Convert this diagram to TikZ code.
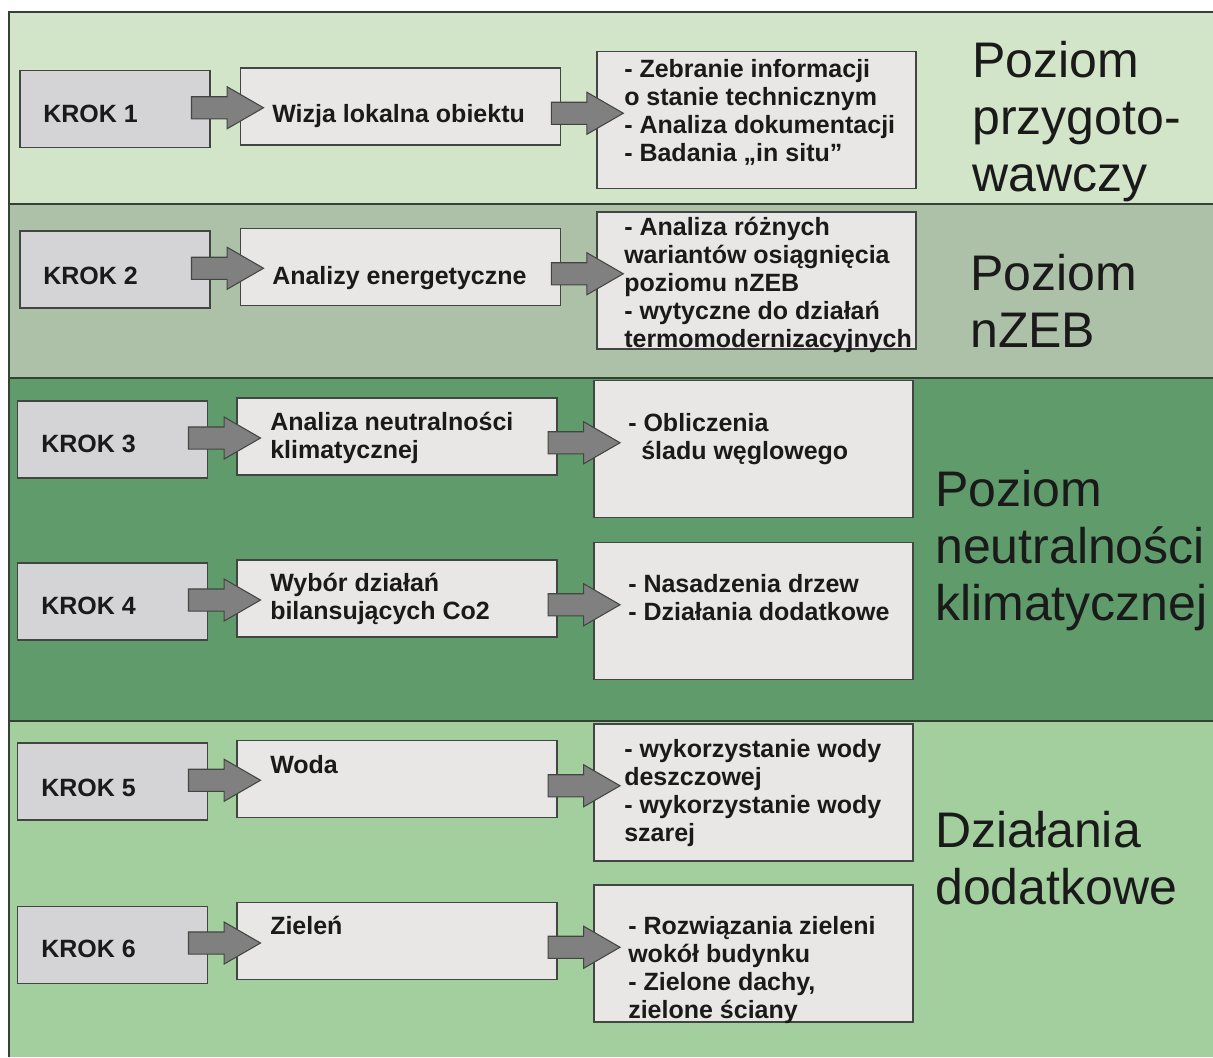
\documentclass[tikz,border=0pt]{standalone}
\usepackage{fontspec}
\setmainfont{Liberation Sans}
\usepackage{tikz}
\usetikzlibrary{shapes.arrows}
\usetikzlibrary{calc}
\definecolor{bandone}{RGB}{211,229,200}
\definecolor{bandtwo}{RGB}{173,193,168}
\definecolor{bandthree}{RGB}{96,155,108}
\definecolor{bandfour}{RGB}{163,206,158}
\definecolor{krokgray}{RGB}{212,212,214}
\definecolor{boxgray}{RGB}{232,231,230}
\definecolor{arrowgray}{RGB}{128,128,128}
\definecolor{linegray}{RGB}{66,70,66}
\definecolor{framecol}{RGB}{52,66,52}
\definecolor{txtcol}{RGB}{26,26,26}
\tikzset{krokbox/.style={draw=linegray,fill=krokgray,line width=0.8pt,
           minimum width=142.5pt,minimum height=57.75pt,inner sep=0pt},
         midbox/.style={krokbox,fill=boxgray,minimum width=240pt},
         infobox/.style={krokbox,fill=boxgray,minimum width=239.25pt,
           minimum height=102.75pt},
         boxtxt/.style={anchor=base west,inner sep=0pt,align=left,text=txtcol,
           font=\bfseries\fontsize{18.75pt}{21pt}\selectfont},
         bigtxt/.style={anchor=base west,inner sep=0pt,align=left,text=txtcol,
           font=\fontsize{37.5pt}{42.75pt}\selectfont},
         fatarrow/.style={single arrow,draw=linegray,fill=arrowgray,line width=0.8pt,
           minimum height=54pt,inner xsep=0pt,inner ysep=7.875pt,anchor=tail,
           single arrow head extend=7.5pt,single arrow tip angle=60},
         bandline/.style={draw=framecol,line width=1.1pt}}

\begin{document}
\begin{tikzpicture}[x=0.75pt,y=-0.75pt]
\useasboundingbox (0,0) rectangle (1213,1057);
\fill[white] (0,0) rectangle (1213,1057);
% poziomy
\fill[bandone] (9,12) rectangle (1213,204);
\fill[bandtwo] (9,204) rectangle (1213,378);
\fill[bandthree] (9,378) rectangle (1213,721);
\fill[bandfour] (9,721) rectangle (1213,1057);
\draw[bandline] (1213,12) -- (9,12) -- (9,1057);
\draw[bandline] (9,204) -- (1213,204);
\draw[bandline] (9,378) -- (1213,378);
\draw[bandline] (9,721) -- (1213,721);

% krok 1
\node[krokbox] (k1) at (115,109) {};
\node[midbox] (m1) at (400.5,106.5) {};
\node[infobox] (r1) at (756.5,120) {};
% krok 2
\node[krokbox] (k2) at (115,269.5) {};
\node[midbox] (m2) at (400.5,267) {};
\node[infobox] (r2) at (756.5,280.5) {};
% krok 3
\node[krokbox] (k3) at (112.5,439.5) {};
\node[midbox] (m3) at (397,436.5) {};
\node[infobox] (r3) at (753.5,449) {};
% krok 4
\node[krokbox] (k4) at (112.5,601.5) {};
\node[midbox] (m4) at (397,598.5) {};
\node[infobox] (r4) at (753.5,611) {};
% krok 5
\node[krokbox] (k5) at (112.5,781.5) {};
\node[midbox] (m5) at (397,779) {};
\node[infobox] (r5) at (753.5,792.5) {};
% krok 6
\node[krokbox] (k6) at (112.5,945) {};
\node[midbox] (m6) at (397,941) {};
\node[infobox] (r6) at (753.5,953.5) {};

% strzalki
\node[fatarrow,xshift=-25.7pt] (a1) at ($(k1.east)!.5!(m1.west)$) {};
\node[fatarrow,xshift=-21pt] (b1) at ($(m1.east)!.5!(r1.west)$) {};
\node[fatarrow,xshift=-25.7pt] (a2) at ($(k2.east)!.5!(m2.west)$) {};
\node[fatarrow,xshift=-21pt] (b2) at ($(m2.east)!.5!(r2.west)$) {};
\node[fatarrow,xshift=-25.7pt] (a3) at ($(k3.east)!.5!(m3.west)$) {};
\node[fatarrow,xshift=-21pt] (b3) at ($(m3.east)!.5!(r3.west)$) {};
\node[fatarrow,xshift=-25.7pt] (a4) at ($(k4.east)!.5!(m4.west)$) {};
\node[fatarrow,xshift=-21pt] (b4) at ($(m4.east)!.5!(r4.west)$) {};
\node[fatarrow,xshift=-25.7pt] (a5) at ($(k5.east)!.5!(m5.west)$) {};
\node[fatarrow,xshift=-21pt] (b5) at ($(m5.east)!.5!(r5.west)$) {};
\node[fatarrow,xshift=-25.7pt] (a6) at ($(k6.east)!.5!(m6.west)$) {};
\node[fatarrow,xshift=-21pt] (b6) at ($(m6.east)!.5!(r6.west)$) {};

% teksty (base = ostatnia linia)
\node[boxtxt] (k1t) at (43,122) {KROK 1};
\node[boxtxt] (m1t) at (272,122) {Wizja lokalna obiektu};
\node[boxtxt] (r1t) at (624,161) {- Zebranie informacji\\o stanie technicznym\\- Analiza dokumentacji\\- Badania „in situ”};
\node[boxtxt] (k2t) at (43,284) {KROK 2};
\node[boxtxt] (m2t) at (272,284) {Analizy energetyczne};
\node[boxtxt] (r2t) at (624,347) {- Analiza różnych\\wariantów osiągnięcia\\poziomu nZEB\\- wytyczne do działań\\termomodernizacyjnych};
\node[boxtxt] (k3t) at (41,452) {KROK 3};
\node[boxtxt] (m3t) at (270,458) {Analiza neutralności\\klimatycznej};
\node[boxtxt] (r3t) at (628,459) {- Obliczenia\\\hspace*{9.75pt}śladu węglowego};
\node[boxtxt] (k4t) at (41,614) {KROK 4};
\node[boxtxt] (m4t) at (270,619) {Wybór działań\\bilansujących Co2};
\node[boxtxt] (r4t) at (628,620) {- Nasadzenia drzew\\- Działania dodatkowe};
\node[boxtxt] (k5t) at (41,796) {KROK 5};
\node[boxtxt] (m5t) at (270,773) {Woda};
\node[boxtxt] (r5t) at (624,841) {- wykorzystanie wody\\deszczowej\\- wykorzystanie wody\\szarej};
\node[boxtxt] (k6t) at (41,957) {KROK 6};
\node[boxtxt] (m6t) at (270,934) {Zieleń};
\node[boxtxt] (r6t) at (628,1018) {- Rozwiązania zieleni\\wokół budynku\\- Zielone dachy,\\zielone ściany};

\node[bigtxt] (p1) at (972,191) {Poziom\\przygoto-\\wawczy};
\node[bigtxt] (p2) at (970,347) {Poziom\\nZEB};
\node[bigtxt] (p3) at (935,620) {Poziom\\neutralności\\klimatycznej};
\node[bigtxt] (p4) at (935,904) {Działania\\dodatkowe};
\end{tikzpicture}
\end{document}
